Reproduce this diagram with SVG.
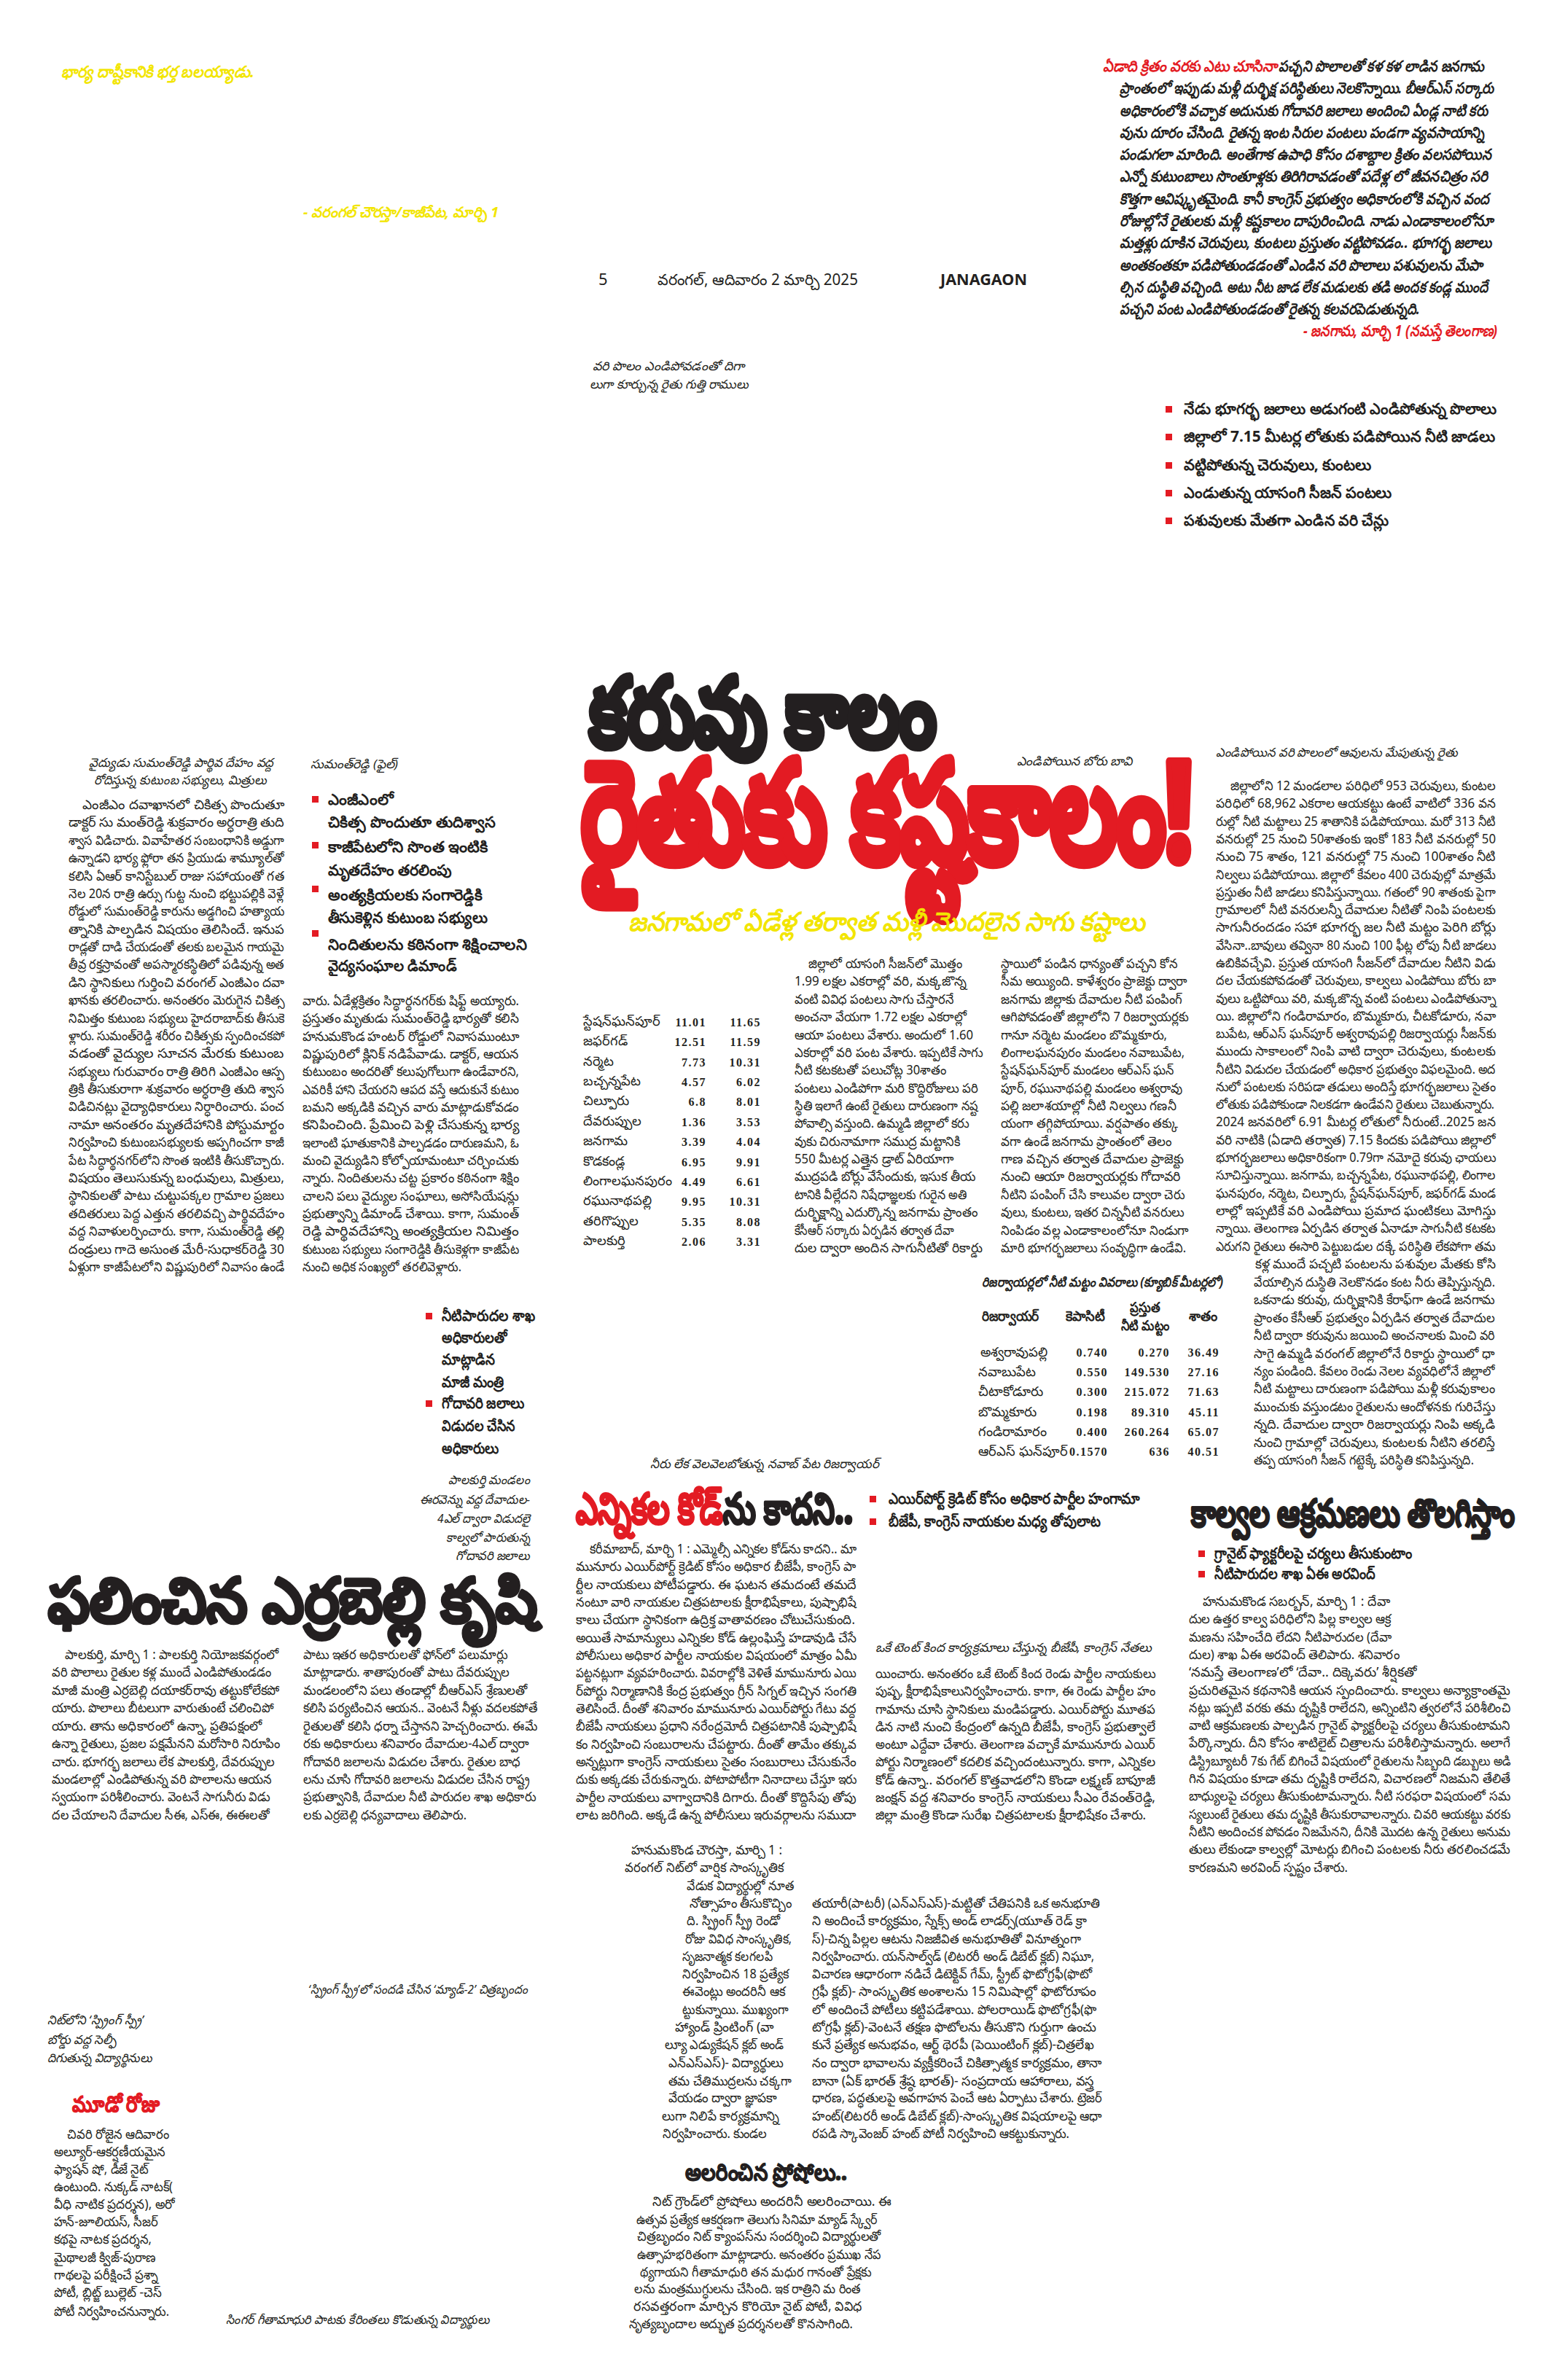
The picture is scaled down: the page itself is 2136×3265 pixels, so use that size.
<svg xmlns="http://www.w3.org/2000/svg" width="2136" height="3265" viewBox="0 0 2136 3265">
<style>
text{font-family:"Noto Sans","DejaVu Sans",sans-serif;fill:#231f20}
.b text,text.b{font-size:18px}
.c text,text.c{font-size:17px;font-style:italic}
.bl text,text.bl{font-size:21px;font-weight:bold}
.r{fill:#e31b23}
text.r,.r text{fill:#e31b23}
text.y{fill:#f2e500}
.sq{fill:#e31b23}
.n text{font-family:"Liberation Serif","DejaVu Serif",serif;font-weight:bold;font-size:16px;letter-spacing:1.5px;text-anchor:end}
.hd{font-weight:900;stroke:#231f20;stroke-linejoin:round}
text.hd.r{stroke:#e31b23}
</style>
<rect width="2136" height="3265" fill="#ffffff"/>

<g id="top-left">
<text class="y" x="84" y="106" font-size="22" font-weight="bold" font-style="italic" textLength="265" lengthAdjust="spacingAndGlyphs">భార్య దాష్టీకానికి భర్త బలయ్యాడు.</text>
<text class="y" x="416" y="298" font-size="20" font-weight="bold" font-style="italic" textLength="268" lengthAdjust="spacingAndGlyphs">- వరంగల్ చౌరస్తా/కాజీపేట, మార్చి 1</text>
</g>

<g id="folio">
<text x="821" y="391" font-size="22" font-family="Liberation Sans">5</text>
<text x="902" y="391" font-size="21" textLength="275" lengthAdjust="spacingAndGlyphs">వరంగల్, ఆదివారం 2 మార్చి 2025</text>
<text x="1290" y="391" font-size="22" font-weight="bold" font-family="Liberation Sans" textLength="119" lengthAdjust="spacingAndGlyphs">JANAGAON</text>
</g>

<g id="caption-ramulu" class="c">
<text x="813" y="508" textLength="209" lengthAdjust="spacingAndGlyphs">వరి పొలం ఎండిపోవడంతో దిగా</text>
<text x="809" y="533" textLength="218" lengthAdjust="spacingAndGlyphs">లుగా కూర్చున్న రైతు గుత్తి రాములు</text>
</g>

<g id="lead" font-size="21" font-weight="bold" font-style="italic">
<text class="r" x="1513" y="98" textLength="239" lengthAdjust="spacingAndGlyphs">ఏడాది క్రితం వరకు ఎటు చూసినా</text>
<text x="1754" y="98" textLength="282" lengthAdjust="spacingAndGlyphs">పచ్చని పొలాలతో కళ కళ లాడిన జనగామ</text>
<text x="1536" y="128" textLength="513" lengthAdjust="spacingAndGlyphs">ప్రాంతంలో ఇప్పుడు మళ్లీ దుర్భిక్ష పరిస్థితులు నెలకొన్నాయి. బీఆర్ఎస్ సర్కారు</text>
<text x="1536" y="159" textLength="505" lengthAdjust="spacingAndGlyphs">అధికారంలోకి వచ్చాక అదునుకు గోదావరి జలాలు అందించి ఏండ్ల నాటి కరు</text>
<text x="1536" y="189" textLength="500" lengthAdjust="spacingAndGlyphs">వును దూరం చేసింది. రైతన్న ఇంట సిరుల పంటలు పండగా వ్యవసాయాన్ని</text>
<text x="1536" y="219" textLength="510" lengthAdjust="spacingAndGlyphs">పండుగలా మారింది. అంతేగాక ఉపాధి కోసం దశాబ్దాల క్రితం వలసపోయిన</text>
<text x="1536" y="249" textLength="505" lengthAdjust="spacingAndGlyphs">ఎన్నో కుటుంబాలు సొంతూళ్లకు తిరిగిరావడంతో పదేళ్ల లో జీవనచిత్రం సరి</text>
<text x="1536" y="280" textLength="507" lengthAdjust="spacingAndGlyphs">కొత్తగా ఆవిష్కృతమైంది. కానీ కాంగ్రెస్ ప్రభుత్వం అధికారంలోకి వచ్చిన వంద</text>
<text x="1536" y="310" textLength="512" lengthAdjust="spacingAndGlyphs">రోజుల్లోనే రైతులకు మళ్లీ కష్టకాలం దాపురించింది. నాడు ఎండాకాలంలోనూ</text>
<text x="1536" y="340" textLength="510" lengthAdjust="spacingAndGlyphs">మత్తళ్లు దూకిన చెరువులు, కుంటలు ప్రస్తుతం వట్టిపోవడం.. భూగర్భ జలాలు</text>
<text x="1536" y="371" textLength="498" lengthAdjust="spacingAndGlyphs">అంతకంతకూ పడిపోతుండడంతో ఎండిన వరి పొలాలు పశువులను మేపా</text>
<text x="1536" y="401" textLength="505" lengthAdjust="spacingAndGlyphs">ల్సిన దుస్థితి వచ్చింది. అటు నీట జాడ లేక మడులకు తడి అందక కండ్ల ముందే</text>
<text x="1536" y="431" textLength="412" lengthAdjust="spacingAndGlyphs">పచ్చని పంట ఎండిపోతుండడంతో రైతన్న కలవరపెడుతున్నది.</text>
<text class="r" x="1788" y="461" textLength="266" lengthAdjust="spacingAndGlyphs">- జనగామ, మార్చి 1 (నమస్తే తెలంగాణ)</text>
</g>

<g id="lead-bullets">
<rect class="sq" x="1599" y="557" width="9" height="9"/>
<rect class="sq" x="1599" y="595" width="9" height="9"/>
<rect class="sq" x="1599" y="634" width="9" height="9"/>
<rect class="sq" x="1599" y="672" width="9" height="9"/>
<rect class="sq" x="1599" y="710" width="9" height="9"/>
<g class="bl">
<text x="1624" y="568" textLength="429" lengthAdjust="spacingAndGlyphs">నేడు భూగర్భ జలాలు అడుగంటి ఎండిపోతున్న పొలాలు</text>
<text x="1624" y="606" textLength="427" lengthAdjust="spacingAndGlyphs">జిల్లాలో 7.15 మీటర్ల లోతుకు పడిపోయిన నీటి జాడలు</text>
<text x="1624" y="645" textLength="257" lengthAdjust="spacingAndGlyphs">వట్టిపోతున్న చెరువులు, కుంటలు</text>
<text x="1624" y="683" textLength="285" lengthAdjust="spacingAndGlyphs">ఎండుతున్న యాసంగి సీజన్ పంటలు</text>
<text x="1624" y="721" textLength="281" lengthAdjust="spacingAndGlyphs">పశువులకు మేతగా ఎండిన వరి చేన్లు</text>
</g>
</g>

<g id="headline">
<text class="hd" x="809" y="1023" font-size="130" stroke-width="9" textLength="475" lengthAdjust="spacingAndGlyphs">కరువు కాలం</text>
<text class="c" x="1395" y="1050" textLength="158" lengthAdjust="spacingAndGlyphs">ఎండిపోయిన బోరు బావి</text>
<text class="hd r" x="798" y="1181" font-size="190" stroke-width="12" textLength="838" lengthAdjust="spacingAndGlyphs">రైతుకు కష్టకాలం!</text>
<text class="y" x="862" y="1277" font-size="36" font-weight="bold" font-style="italic" textLength="708" lengthAdjust="spacingAndGlyphs">జనగామలో ఏడేళ్ల తర్వాత మళ్లీ మొదలైన సాగు కష్టాలు</text>
</g>

<g id="doctor-story">
<g class="c">
<text x="122" y="1052" textLength="253" lengthAdjust="spacingAndGlyphs">వైద్యుడు సుమంత్‌రెడ్డి పార్థివ దేహం వద్ద</text>
<text x="129" y="1076" textLength="237" lengthAdjust="spacingAndGlyphs">రోదిస్తున్న కుటుంబ సభ్యులు, మిత్రులు</text>
<text x="426" y="1054" textLength="120" lengthAdjust="spacingAndGlyphs">సుమంత్‌రెడ్డి (ఫైల్)</text>
</g>
<rect class="sq" x="428" y="1092" width="9" height="9"/>
<rect class="sq" x="428" y="1155" width="9" height="9"/>
<rect class="sq" x="428" y="1215" width="9" height="9"/>
<rect class="sq" x="428" y="1276" width="9" height="9"/>
<g class="bl">
<text x="450" y="1104" textLength="90" lengthAdjust="spacingAndGlyphs">ఎంజీఎంలో</text>
<text x="450" y="1135" textLength="230" lengthAdjust="spacingAndGlyphs">చికిత్స పొందుతూ తుదిశ్వాస</text>
<text x="450" y="1169" textLength="219" lengthAdjust="spacingAndGlyphs">కాజీపేటలోని సొంత ఇంటికి</text>
<text x="450" y="1201" textLength="170" lengthAdjust="spacingAndGlyphs">మృతదేహం తరలింపు</text>
<text x="450" y="1235" textLength="212" lengthAdjust="spacingAndGlyphs">అంత్యక్రియలకు సంగారెడ్డికి</text>
<text x="450" y="1266" textLength="219" lengthAdjust="spacingAndGlyphs">తీసుకెళ్లిన కుటుంబ సభ్యులు</text>
<text x="450" y="1303" textLength="273" lengthAdjust="spacingAndGlyphs">నిందితులను కఠినంగా శిక్షించాలని</text>
<text x="450" y="1332" textLength="177" lengthAdjust="spacingAndGlyphs">వైద్యసంఘాల డిమాండ్</text>
</g>
<g class="b">
<text x="113" y="1110" textLength="277" lengthAdjust="spacingAndGlyphs">ఎంజీఎం దవాఖానలో చికిత్స పొందుతూ</text>
<text x="94" y="1134" textLength="296" lengthAdjust="spacingAndGlyphs">డాక్టర్ సు మంత్‌రెడ్డి శుక్రవారం అర్ధరాత్రి తుది</text>
<text x="94" y="1159" textLength="296" lengthAdjust="spacingAndGlyphs">శ్వాస విడిచారు. వివాహేతర సంబంధానికి అడ్డుగా</text>
<text x="94" y="1183" textLength="296" lengthAdjust="spacingAndGlyphs">ఉన్నాడని భార్య ఫ్లోరా తన ప్రియుడు శామ్యూల్‌తో</text>
<text x="94" y="1208" textLength="296" lengthAdjust="spacingAndGlyphs">కలిసి ఏఆర్ కానిస్టేబుల్ రాజు సహాయంతో గత</text>
<text x="94" y="1232" textLength="296" lengthAdjust="spacingAndGlyphs">నెల 20న రాత్రి ఉర్సు గుట్ట నుంచి భట్టుపల్లికి వెళ్లే</text>
<text x="94" y="1256" textLength="296" lengthAdjust="spacingAndGlyphs">రోడ్డులో సుమంత్‌రెడ్డి కారును అడ్డగించి హత్యాయ</text>
<text x="94" y="1281" textLength="296" lengthAdjust="spacingAndGlyphs">త్నానికి పాల్పడిన విషయం తెలిసిందే. ఇనుప</text>
<text x="94" y="1305" textLength="296" lengthAdjust="spacingAndGlyphs">రాడ్లతో దాడి చేయడంతో తలకు బలమైన గాయమై</text>
<text x="94" y="1329" textLength="296" lengthAdjust="spacingAndGlyphs">తీవ్ర రక్తస్రావంతో అపస్మారకస్థితిలో పడివున్న అత</text>
<text x="94" y="1354" textLength="296" lengthAdjust="spacingAndGlyphs">డిని స్థానికులు గుర్తించి వరంగల్ ఎంజీఎం దవా</text>
<text x="94" y="1378" textLength="296" lengthAdjust="spacingAndGlyphs">ఖానకు తరలించారు. అనంతరం మెరుగైన చికిత్స</text>
<text x="94" y="1403" textLength="296" lengthAdjust="spacingAndGlyphs">నిమిత్తం కుటుంబ సభ్యులు హైదరాబాద్‌కు తీసుకె</text>
<text x="94" y="1427" textLength="296" lengthAdjust="spacingAndGlyphs">ళ్లారు. సుమంత్‌రెడ్డి శరీరం చికిత్సకు స్పందించకపో</text>
<text x="94" y="1451" textLength="296" lengthAdjust="spacingAndGlyphs">వడంతో వైద్యుల సూచన మేరకు కుటుంబ</text>
<text x="94" y="1476" textLength="296" lengthAdjust="spacingAndGlyphs">సభ్యులు గురువారం రాత్రి తిరిగి ఎంజీఎం ఆస్ప</text>
<text x="94" y="1500" textLength="296" lengthAdjust="spacingAndGlyphs">త్రికి తీసుకురాగా శుక్రవారం అర్ధరాత్రి తుది శ్వాస</text>
<text x="94" y="1524" textLength="296" lengthAdjust="spacingAndGlyphs">విడిచినట్లు వైద్యాధికారులు నిర్ధారించారు. పంచ</text>
<text x="94" y="1549" textLength="296" lengthAdjust="spacingAndGlyphs">నామా అనంతరం మృతదేహానికి పోస్టుమార్టం</text>
<text x="94" y="1573" textLength="296" lengthAdjust="spacingAndGlyphs">నిర్వహించి కుటుంబసభ్యులకు అప్పగించగా కాజీ</text>
<text x="94" y="1598" textLength="296" lengthAdjust="spacingAndGlyphs">పేట సిద్ధార్థనగర్‌లోని సొంత ఇంటికి తీసుకొచ్చారు.</text>
<text x="94" y="1622" textLength="296" lengthAdjust="spacingAndGlyphs">విషయం తెలుసుకున్న బంధువులు, మిత్రులు,</text>
<text x="94" y="1646" textLength="296" lengthAdjust="spacingAndGlyphs">స్థానికులతో పాటు చుట్టుపక్కల గ్రామాల ప్రజలు</text>
<text x="94" y="1671" textLength="296" lengthAdjust="spacingAndGlyphs">తదితరులు పెద్ద ఎత్తున తరలివచ్చి పార్థివదేహం</text>
<text x="94" y="1695" textLength="296" lengthAdjust="spacingAndGlyphs">వద్ద నివాళులర్పించారు. కాగా, సుమంత్‌రెడ్డి తల్లి</text>
<text x="94" y="1720" textLength="296" lengthAdjust="spacingAndGlyphs">దండ్రులు గాదె అసుంత మేరీ-సుధాకర్‌రెడ్డి 30</text>
<text x="94" y="1744" textLength="296" lengthAdjust="spacingAndGlyphs">ఏళ్లుగా కాజీపేటలోని విష్ణుపురిలో నివాసం ఉండే</text>
<text x="415" y="1379" textLength="297" lengthAdjust="spacingAndGlyphs">వారు. ఏడేళ్లక్రితం సిద్ధార్థనగర్‌కు షిఫ్ట్ అయ్యారు.</text>
<text x="415" y="1403" textLength="297" lengthAdjust="spacingAndGlyphs">ప్రస్తుతం మృతుడు సుమంత్‌రెడ్డి భార్యతో కలిసి</text>
<text x="415" y="1428" textLength="297" lengthAdjust="spacingAndGlyphs">హనుమకొండ హంటర్ రోడ్డులో నివాసముంటూ</text>
<text x="415" y="1452" textLength="297" lengthAdjust="spacingAndGlyphs">విష్ణుపురిలో క్లినిక్ నడిపేవాడు. డాక్టర్, ఆయన</text>
<text x="415" y="1476" textLength="297" lengthAdjust="spacingAndGlyphs">కుటుంబం అందరితో కలుపుగోలుగా ఉండేవారని,</text>
<text x="415" y="1501" textLength="297" lengthAdjust="spacingAndGlyphs">ఎవరికీ హాని చేయరని ఆపద వస్తే ఆదుకునే కుటుం</text>
<text x="415" y="1525" textLength="297" lengthAdjust="spacingAndGlyphs">బమని అక్కడికి వచ్చిన వారు మాట్లాడుకోవడం</text>
<text x="415" y="1549" textLength="297" lengthAdjust="spacingAndGlyphs">కనిపించింది. ప్రేమించి పెళ్లి చేసుకున్న భార్య</text>
<text x="415" y="1574" textLength="297" lengthAdjust="spacingAndGlyphs">ఇలాంటి ఘాతుకానికి పాల్పడడం దారుణమని, ఓ</text>
<text x="415" y="1598" textLength="297" lengthAdjust="spacingAndGlyphs">మంచి వైద్యుడిని కోల్పోయామంటూ చర్చించుకు</text>
<text x="415" y="1622" textLength="297" lengthAdjust="spacingAndGlyphs">న్నారు. నిందితులను చట్ట ప్రకారం కఠినంగా శిక్షిం</text>
<text x="415" y="1647" textLength="297" lengthAdjust="spacingAndGlyphs">చాలని పలు వైద్యుల సంఘాలు, అసోసియేషన్లు</text>
<text x="415" y="1671" textLength="297" lengthAdjust="spacingAndGlyphs">ప్రభుత్వాన్ని డిమాండ్ చేశాయి. కాగా, సుమంత్</text>
<text x="415" y="1695" textLength="297" lengthAdjust="spacingAndGlyphs">రెడ్డి పార్థివదేహాన్ని అంత్యక్రియల నిమిత్తం</text>
<text x="415" y="1720" textLength="297" lengthAdjust="spacingAndGlyphs">కుటుంబ సభ్యులు సంగారెడ్డికి తీసుకెళ్లగా కాజీపేట</text>
<text x="415" y="1744" textLength="218" lengthAdjust="spacingAndGlyphs">నుంచి అధిక సంఖ్యలో తరలివెళ్లారు.</text>
</g>
</g>

<g id="groundwater-table">
<g class="b">
<text x="800" y="1407">స్టేషన్‌ఘన్‌పూర్</text>
<text x="800" y="1434">జఫర్‌గడ్</text>
<text x="800" y="1462">నర్మెట</text>
<text x="800" y="1489">బచ్చన్నపేట</text>
<text x="800" y="1516">చిల్పూరు</text>
<text x="800" y="1544">దేవరుప్పుల</text>
<text x="800" y="1571">జనగామ</text>
<text x="800" y="1599">కొడకండ్ల</text>
<text x="800" y="1626">లింగాలఘనపురం</text>
<text x="800" y="1653">రఘునాథపల్లి</text>
<text x="800" y="1681">తరిగొప్పుల</text>
<text x="800" y="1708">పాలకుర్తి</text>
</g>
<g class="n">
<text x="969" y="1408">11.01</text><text x="1044" y="1408">11.65</text>
<text x="969" y="1435">12.51</text><text x="1044" y="1435">11.59</text>
<text x="969" y="1463">7.73</text><text x="1044" y="1463">10.31</text>
<text x="969" y="1490">4.57</text><text x="1044" y="1490">6.02</text>
<text x="969" y="1517">6.8</text><text x="1044" y="1517">8.01</text>
<text x="969" y="1545">1.36</text><text x="1044" y="1545">3.53</text>
<text x="969" y="1572">3.39</text><text x="1044" y="1572">4.04</text>
<text x="969" y="1600">6.95</text><text x="1044" y="1600">9.91</text>
<text x="969" y="1627">4.49</text><text x="1044" y="1627">6.61</text>
<text x="969" y="1654">9.95</text><text x="1044" y="1654">10.31</text>
<text x="969" y="1682">5.35</text><text x="1044" y="1682">8.08</text>
<text x="969" y="1709">2.06</text><text x="1044" y="1709">3.31</text>
</g>
</g>

<g id="drought-story" class="b">
<text x="1109" y="1328" textLength="211" lengthAdjust="spacingAndGlyphs">జిల్లాలో యాసంగి సీజన్‌లో మొత్తం</text>
<text x="1090" y="1352" textLength="236" lengthAdjust="spacingAndGlyphs">1.99 లక్షల ఎకరాల్లో వరి, మక్కజొన్న</text>
<text x="1090" y="1377" textLength="219" lengthAdjust="spacingAndGlyphs">వంటి వివిధ పంటలు సాగు చేస్తారనే</text>
<text x="1090" y="1401" textLength="236" lengthAdjust="spacingAndGlyphs">అంచనా వేయగా 1.72 లక్షల ఎకరాల్లో</text>
<text x="1090" y="1426" textLength="245" lengthAdjust="spacingAndGlyphs">ఆయా పంటలు వేశారు. అందులో 1.60</text>
<text x="1090" y="1450" textLength="258" lengthAdjust="spacingAndGlyphs">ఎకరాల్లో వరి పంట వేశారు. ఇప్పటికే సాగు</text>
<text x="1090" y="1474" textLength="208" lengthAdjust="spacingAndGlyphs">నీటి కటకటతో పలుచోట్ల 30శాతం</text>
<text x="1090" y="1499" textLength="252" lengthAdjust="spacingAndGlyphs">పంటలు ఎండిపోగా మరి కొద్దిరోజులు పరి</text>
<text x="1090" y="1523" textLength="252" lengthAdjust="spacingAndGlyphs">స్థితి ఇలాగే ఉంటే రైతులు దారుణంగా నష్ట</text>
<text x="1090" y="1547" textLength="239" lengthAdjust="spacingAndGlyphs">పోవాల్సి వస్తుంది. ఉమ్మడి జిల్లాలో కరు</text>
<text x="1090" y="1572" textLength="227" lengthAdjust="spacingAndGlyphs">వుకు చిరునామాగా సముద్ర మట్టానికి</text>
<text x="1090" y="1596" textLength="219" lengthAdjust="spacingAndGlyphs">550 మీటర్ల ఎత్తైన డ్రాట్ ఏరియాగా</text>
<text x="1090" y="1620" textLength="248" lengthAdjust="spacingAndGlyphs">ముద్రపడి బోర్లు వేసేందుకు, ఇసుక తీయ</text>
<text x="1090" y="1645" textLength="236" lengthAdjust="spacingAndGlyphs">టానికి వీల్లేదని నిషేధాజ్ఞలకు గురైన అతి</text>
<text x="1090" y="1669" textLength="251" lengthAdjust="spacingAndGlyphs">దుర్భిక్షాన్ని ఎదుర్కొన్న జనగామ ప్రాంతం</text>
<text x="1090" y="1694" textLength="219" lengthAdjust="spacingAndGlyphs">కేసీఆర్ సర్కారు ఏర్పడిన తర్వాత దేవా</text>
<text x="1090" y="1718" textLength="258" lengthAdjust="spacingAndGlyphs">దుల ద్వారా అందిన సాగునీటితో రికార్డు</text>
<text x="1373" y="1328" textLength="243" lengthAdjust="spacingAndGlyphs">స్థాయిలో పండిన ధాన్యంతో పచ్చని కోన</text>
<text x="1373" y="1352" textLength="256" lengthAdjust="spacingAndGlyphs">సీమ అయ్యింది. కాళేశ్వరం ప్రాజెక్టు ద్వారా</text>
<text x="1373" y="1377" textLength="249" lengthAdjust="spacingAndGlyphs">జనగామ జిల్లాకు దేవాదుల నీటి పంపింగ్</text>
<text x="1373" y="1401" textLength="258" lengthAdjust="spacingAndGlyphs">ఆగిపోవడంతో జిల్లాలోని 7 రిజర్వాయర్లకు</text>
<text x="1373" y="1426" textLength="228" lengthAdjust="spacingAndGlyphs">గానూ నర్మెట మండలం బొమ్మకూరు,</text>
<text x="1373" y="1450" textLength="252" lengthAdjust="spacingAndGlyphs">లింగాలఘనపురం మండలం నవాబుపేట,</text>
<text x="1373" y="1474" textLength="238" lengthAdjust="spacingAndGlyphs">స్టేషన్‌ఘన్‌పూర్ మండలం ఆర్ఎస్ ఘన్</text>
<text x="1373" y="1499" textLength="249" lengthAdjust="spacingAndGlyphs">పూర్, రఘునాథపల్లి మండలం అశ్వరావు</text>
<text x="1373" y="1523" textLength="241" lengthAdjust="spacingAndGlyphs">పల్లి జలాశయాల్లో నీటి నిల్వలు గణనీ</text>
<text x="1373" y="1547" textLength="243" lengthAdjust="spacingAndGlyphs">యంగా తగ్గిపోయాయి. వర్షపాతం తక్కు</text>
<text x="1373" y="1572" textLength="234" lengthAdjust="spacingAndGlyphs">వగా ఉండే జనగామ ప్రాంతంలో తెలం</text>
<text x="1373" y="1596" textLength="251" lengthAdjust="spacingAndGlyphs">గాణ వచ్చిన తర్వాత దేవాదుల ప్రాజెక్టు</text>
<text x="1373" y="1620" textLength="247" lengthAdjust="spacingAndGlyphs">నుంచి ఆయా రిజర్వాయర్లకు గోదావరి</text>
<text x="1373" y="1645" textLength="252" lengthAdjust="spacingAndGlyphs">నీటిని పంపింగ్ చేసి కాలువల ద్వారా చెరు</text>
<text x="1373" y="1669" textLength="251" lengthAdjust="spacingAndGlyphs">వులు, కుంటలు, ఇతర చిన్ననీటి వనరులు</text>
<text x="1373" y="1694" textLength="258" lengthAdjust="spacingAndGlyphs">నింపిడం వల్ల ఎండాకాలంలోనూ నిండుగా</text>
<text x="1373" y="1718" textLength="254" lengthAdjust="spacingAndGlyphs">మారి భూగర్భజలాలు సంవృద్ధిగా ఉండేవి.</text>
</g>

<g id="right-story">
<text class="c" x="1668" y="1038" textLength="332" lengthAdjust="spacingAndGlyphs">ఎండిపోయిన వరి పొలంలో ఆవులను మేపుతున్న రైతు</text>
<g class="b">
<text x="1688" y="1084" textLength="364" lengthAdjust="spacingAndGlyphs">జిల్లాలోని 12 మండలాల పరిధిలో 953 చెరువులు, కుంటల</text>
<text x="1668" y="1108" textLength="384" lengthAdjust="spacingAndGlyphs">పరిధిలో 68,962 ఎకరాల ఆయకట్టు ఉంటే వాటిలో 336 వన</text>
<text x="1668" y="1133" textLength="384" lengthAdjust="spacingAndGlyphs">రుల్లో నీటి మట్టాలు 25 శాతానికి పడిపోయాయి. మరో 313 నీటి</text>
<text x="1668" y="1157" textLength="384" lengthAdjust="spacingAndGlyphs">వనరుల్లో 25 నుంచి 50శాతంకు ఇంకో 183 నీటి వనరుల్లో 50</text>
<text x="1668" y="1181" textLength="384" lengthAdjust="spacingAndGlyphs">నుంచి 75 శాతం, 121 వనరుల్లో 75 నుంచి 100శాతం నీటి</text>
<text x="1668" y="1206" textLength="384" lengthAdjust="spacingAndGlyphs">నిల్వలు పడిపోయాయి. జిల్లాలో కేవలం 400 చెరువుల్లో మాత్రమే</text>
<text x="1668" y="1230" textLength="384" lengthAdjust="spacingAndGlyphs">ప్రస్తుతం నీటి జాడలు కనిపిస్తున్నాయి. గతంలో 90 శాతంకు పైగా</text>
<text x="1668" y="1254" textLength="384" lengthAdjust="spacingAndGlyphs">గ్రామాలలో నీటి వనరులన్నీ దేవాదుల నీటితో నింపి పంటలకు</text>
<text x="1668" y="1278" textLength="384" lengthAdjust="spacingAndGlyphs">సాగునీరందడం సహా భూగర్భ జల నీటి మట్టం పెరిగి బోర్లు</text>
<text x="1668" y="1303" textLength="384" lengthAdjust="spacingAndGlyphs">వేసినా..బావులు తవ్వినా 80 నుంచి 100 ఫీట్ల లోపు నీటి జాడలు</text>
<text x="1668" y="1327" textLength="384" lengthAdjust="spacingAndGlyphs">ఉబికివచ్చేవి. ప్రస్తుత యాసంగి సీజన్‌లో దేవాదుల నీటిని విడు</text>
<text x="1668" y="1351" textLength="384" lengthAdjust="spacingAndGlyphs">దల చేయకపోవడంతో చెరువులు, కాల్వలు ఎండిపోయి బోరు బా</text>
<text x="1668" y="1376" textLength="384" lengthAdjust="spacingAndGlyphs">వులు ఒట్టిపోయి వరి, మక్కజొన్న వంటి పంటలు ఎండిపోతున్నా</text>
<text x="1668" y="1400" textLength="384" lengthAdjust="spacingAndGlyphs">యి. జిల్లాలోని గండిరామారం, బొమ్మకూరు, చీటకోడూరు, నవా</text>
<text x="1668" y="1424" textLength="384" lengthAdjust="spacingAndGlyphs">బుపేట, ఆర్ఎస్ ఘన్‌పూర్ అశ్వరావుపల్లి రిజర్వాయర్లు సీజన్‌కు</text>
<text x="1668" y="1448" textLength="384" lengthAdjust="spacingAndGlyphs">ముందు సాకాలంలో నింపి వాటి ద్వారా చెరువులు, కుంటలకు</text>
<text x="1668" y="1473" textLength="384" lengthAdjust="spacingAndGlyphs">నీటిని విడుదల చేయడంలో అధికార ప్రభుత్వం విఫలమైంది. అద</text>
<text x="1668" y="1497" textLength="384" lengthAdjust="spacingAndGlyphs">నులో పంటలకు సరిపడా తడులు అందిస్తే భూగర్భజలాలు సైతం</text>
<text x="1668" y="1521" textLength="382" lengthAdjust="spacingAndGlyphs">లోతుకు పడిపోకుండా నిలకడగా ఉండేవని రైతులు చెబుతున్నారు.</text>
<text x="1668" y="1545" textLength="384" lengthAdjust="spacingAndGlyphs">2024 జనవరిలో 6.91 మీటర్ల లోతులో నీరుంటే..2025 జన</text>
<text x="1668" y="1570" textLength="384" lengthAdjust="spacingAndGlyphs">వరి నాటికి (ఏడాది తర్వాత) 7.15 కిందకు పడిపోయి జిల్లాలో</text>
<text x="1668" y="1594" textLength="384" lengthAdjust="spacingAndGlyphs">భూగర్భజలాలు అధికారికంగా 0.79గా నమోదై కరువు ఛాయలు</text>
<text x="1668" y="1618" textLength="384" lengthAdjust="spacingAndGlyphs">సూచిస్తున్నాయి. జనగామ, బచ్చన్నపేట, రఘునాథపల్లి, లింగాల</text>
<text x="1668" y="1643" textLength="384" lengthAdjust="spacingAndGlyphs">ఘనపురం, నర్మెట, చిల్పూరు, స్టేషన్‌ఘన్‌పూర్, జఫర్‌గడ్ మండ</text>
<text x="1668" y="1667" textLength="384" lengthAdjust="spacingAndGlyphs">లాల్లో ఇప్పటికే వరి ఎండిపోయి ప్రమాద ఘంటికలు మోగిస్తు</text>
<text x="1668" y="1691" textLength="384" lengthAdjust="spacingAndGlyphs">న్నాయి. తెలంగాణ ఏర్పడిన తర్వాత ఏనాడూ సాగునీటి కటకట</text>
<text x="1668" y="1716" textLength="384" lengthAdjust="spacingAndGlyphs">ఎరుగని రైతులు ఈసారి పెట్టుబడుల దక్కే పరిస్థితి లేకపోగా తమ</text>
<text x="1722" y="1740" textLength="330" lengthAdjust="spacingAndGlyphs">కళ్ల ముందే పచ్చటి పంటలను పశువుల మేతకు కోసి</text>
<text x="1720" y="1765" textLength="331" lengthAdjust="spacingAndGlyphs">వేయాల్సిన దుస్థితి నెలకొనడం కంట నీరు తెప్పిస్తున్నది.</text>
<text x="1720" y="1789" textLength="331" lengthAdjust="spacingAndGlyphs">ఒకనాడు కరువు, దుర్భిక్షానికి కేరాఫ్‌గా ఉండే జనగామ</text>
<text x="1720" y="1814" textLength="331" lengthAdjust="spacingAndGlyphs">ప్రాంతం కేసీఆర్ ప్రభుత్వం ఏర్పడిన తర్వాత దేవాదుల</text>
<text x="1720" y="1838" textLength="331" lengthAdjust="spacingAndGlyphs">నీటి ద్వారా కరువును జయించి అంచనాలకు మించి వరి</text>
<text x="1720" y="1863" textLength="331" lengthAdjust="spacingAndGlyphs">సాగై ఉమ్మడి వరంగల్ జిల్లాలోనే రికార్డు స్థాయిలో ధా</text>
<text x="1720" y="1887" textLength="331" lengthAdjust="spacingAndGlyphs">న్యం పండింది. కేవలం రెండు నెలల వ్యవధిలోనే జిల్లాలో</text>
<text x="1720" y="1911" textLength="331" lengthAdjust="spacingAndGlyphs">నీటి మట్టాలు దారుణంగా పడిపోయి మళ్లీ కరువుకాలం</text>
<text x="1720" y="1936" textLength="331" lengthAdjust="spacingAndGlyphs">ముంచుకు వస్తుండటం రైతులను ఆందోళనకు గురిచేస్తు</text>
<text x="1720" y="1960" textLength="331" lengthAdjust="spacingAndGlyphs">న్నది. దేవాదుల ద్వారా రిజర్వాయర్లు నింపి అక్కడి</text>
<text x="1720" y="1985" textLength="331" lengthAdjust="spacingAndGlyphs">నుంచి గ్రామాల్లో చెరువులు, కుంటలకు నీటిని తరలిస్తే</text>
<text x="1720" y="2009" textLength="302" lengthAdjust="spacingAndGlyphs">తప్ప యాసంగి సీజన్ గట్టెక్కే పరిస్థితి కనిపిస్తున్నది.</text>
</g>
</g>

<g id="reservoir-table">
<text x="1347" y="1765" font-size="18" font-weight="bold" font-style="italic" textLength="331" lengthAdjust="spacingAndGlyphs">రిజర్వాయర్లలో నీటి మట్టం వివరాలు (క్యూబిక్ మీటర్లలో)</text>
<g font-size="19" font-weight="bold">
<text x="1347" y="1812" textLength="78" lengthAdjust="spacingAndGlyphs">రిజర్వాయర్</text>
<text x="1462" y="1812" textLength="54" lengthAdjust="spacingAndGlyphs">కెపాసిటీ</text>
<text x="1550" y="1800" textLength="42" lengthAdjust="spacingAndGlyphs">ప్రస్తుత</text>
<text x="1538" y="1825" textLength="67" lengthAdjust="spacingAndGlyphs">నీటి మట్టం</text>
<text x="1631" y="1812" textLength="40" lengthAdjust="spacingAndGlyphs">శాతం</text>
</g>
<g class="b">
<text x="1345" y="1861">అశ్వరావుపల్లి</text>
<text x="1342" y="1888">నవాబుపేట</text>
<text x="1342" y="1915">చీటాకోడూరు</text>
<text x="1342" y="1943">బొమ్మకూరు</text>
<text x="1342" y="1970">గండిరామారం</text>
<text x="1342" y="1997">ఆర్ఎస్ ఘన్‌పూర్</text>
</g>
<g class="n">
<text x="1520" y="1861">0.740</text><text x="1605" y="1861">0.270</text><text x="1673" y="1861">36.49</text>
<text x="1520" y="1888">0.550</text><text x="1605" y="1888">149.530</text><text x="1673" y="1888">27.16</text>
<text x="1520" y="1915">0.300</text><text x="1605" y="1915">215.072</text><text x="1673" y="1915">71.63</text>
<text x="1520" y="1943">0.198</text><text x="1605" y="1943">89.310</text><text x="1673" y="1943">45.11</text>
<text x="1520" y="1970">0.400</text><text x="1605" y="1970">260.264</text><text x="1673" y="1970">65.07</text>
<text x="1520" y="1997">0.1570</text><text x="1605" y="1997">636</text><text x="1673" y="1997">40.51</text>
</g>
</g>

<g id="errabelli-bullets">
<rect class="sq" x="584" y="1801" width="9" height="9"/>
<rect class="sq" x="584" y="1921" width="9" height="9"/>
<g class="bl">
<text x="606" y="1812" textLength="128" lengthAdjust="spacingAndGlyphs">నీటిపారుదల శాఖ</text>
<text x="606" y="1842" textLength="90" lengthAdjust="spacingAndGlyphs">అధికారులతో</text>
<text x="606" y="1872" textLength="73" lengthAdjust="spacingAndGlyphs">మాట్లాడిన</text>
<text x="606" y="1903" textLength="85" lengthAdjust="spacingAndGlyphs">మాజీ మంత్రి</text>
<text x="606" y="1932" textLength="113" lengthAdjust="spacingAndGlyphs">గోదావరి జలాలు</text>
<text x="606" y="1963" textLength="101" lengthAdjust="spacingAndGlyphs">విడుదల చేసిన</text>
<text x="606" y="1994" textLength="78" lengthAdjust="spacingAndGlyphs">అధికారులు</text>
</g>
<g class="c" text-anchor="end">
<text x="727" y="2036" textLength="112" lengthAdjust="spacingAndGlyphs">పాలకుర్తి మండలం</text>
<text x="727" y="2063" textLength="151" lengthAdjust="spacingAndGlyphs">ఈరవెన్ను వద్ద దేవాదుల-</text>
<text x="727" y="2089" textLength="127" lengthAdjust="spacingAndGlyphs">4ఎల్ ద్వారా విడుదలై</text>
<text x="727" y="2115" textLength="115" lengthAdjust="spacingAndGlyphs">కాల్వలో పారుతున్న</text>
<text x="727" y="2140" textLength="102" lengthAdjust="spacingAndGlyphs">గోదావరి జలాలు</text>
</g>
</g>

<g id="errabelli-story">
<text class="hd" x="66" y="2225" font-size="84" stroke-width="4" textLength="671" lengthAdjust="spacingAndGlyphs">ఫలించిన ఎర్రబెల్లి కృషి</text>
<g class="b">
<text x="89" y="2276" textLength="294" lengthAdjust="spacingAndGlyphs">పాలకుర్తి, మార్చి 1 : పాలకుర్తి నియోజకవర్గంలో</text>
<text x="71" y="2300" textLength="301" lengthAdjust="spacingAndGlyphs">వరి పొలాలు రైతుల కళ్ల ముందే ఎండిపోతుండడం</text>
<text x="71" y="2325" textLength="312" lengthAdjust="spacingAndGlyphs">మాజీ మంత్రి ఎర్రబెల్లి దయాకర్‌రావు తట్టుకోలేకపో</text>
<text x="71" y="2349" textLength="304" lengthAdjust="spacingAndGlyphs">యారు. పొలాలు బీటలుగా వారుతుంటే చలించిపో</text>
<text x="71" y="2374" textLength="289" lengthAdjust="spacingAndGlyphs">యారు. తాను అధికారంలో ఉన్నా, ప్రతిపక్షంలో</text>
<text x="71" y="2398" textLength="313" lengthAdjust="spacingAndGlyphs">ఉన్నా రైతులు, ప్రజల పక్షమేనని మరోసారి నిరూపిం</text>
<text x="71" y="2423" textLength="306" lengthAdjust="spacingAndGlyphs">చారు. భూగర్భ జలాలు లేక పాలకుర్తి, దేవరుప్పుల</text>
<text x="71" y="2447" textLength="302" lengthAdjust="spacingAndGlyphs">మండలాల్లో ఎండిపోతున్న వరి పొలాలను ఆయన</text>
<text x="71" y="2471" textLength="299" lengthAdjust="spacingAndGlyphs">స్వయంగా పరిశీలించారు. వెంటనే సాగునీరు విడు</text>
<text x="71" y="2496" textLength="299" lengthAdjust="spacingAndGlyphs">దల చేయాలని దేవాదుల సీఈ, ఎస్ఈ, ఈఈలతో</text>
<text x="416" y="2276" textLength="280" lengthAdjust="spacingAndGlyphs">పాటు ఇతర అధికారులతో ఫోన్‌లో పలుమార్లు</text>
<text x="416" y="2300" textLength="283" lengthAdjust="spacingAndGlyphs">మాట్లాడారు. శాతాపురంతో పాటు దేవరుప్పుల</text>
<text x="416" y="2325" textLength="308" lengthAdjust="spacingAndGlyphs">మండలంలోని పలు తండాల్లో బీఆర్ఎస్ శ్రేణులతో</text>
<text x="416" y="2349" textLength="321" lengthAdjust="spacingAndGlyphs">కలిసి పర్యటించిన ఆయన.. వెంటనే నీళ్లు వదలకపోతే</text>
<text x="416" y="2374" textLength="321" lengthAdjust="spacingAndGlyphs">రైతులతో కలిసి ధర్నా చేస్తానని హెచ్చరించారు. ఈమే</text>
<text x="416" y="2398" textLength="310" lengthAdjust="spacingAndGlyphs">రకు అధికారులు శనివారం దేవాదుల-4ఎల్ ద్వారా</text>
<text x="416" y="2423" textLength="298" lengthAdjust="spacingAndGlyphs">గోదావరి జలాలను విడుదల చేశారు. రైతుల బాధ</text>
<text x="416" y="2447" textLength="311" lengthAdjust="spacingAndGlyphs">లను చూసి గోదావరి జలాలను విడుదల చేసిన రాష్ట్ర</text>
<text x="416" y="2471" textLength="319" lengthAdjust="spacingAndGlyphs">ప్రభుత్వానికి, దేవాదుల నీటి పారుదల శాఖ అధికారు</text>
<text x="416" y="2496" textLength="224" lengthAdjust="spacingAndGlyphs">లకు ఎర్రబెల్లి ధన్యవాదాలు తెలిపారు.</text>
</g>
</g>

<g id="airport-story">
<text class="c" x="892" y="2014" textLength="314" lengthAdjust="spacingAndGlyphs">నీరు లేక వెలవెలబోతున్న నవాబ్ పేట రిజర్వాయర్</text>
<text class="hd r" x="790" y="2090" font-size="58" stroke-width="3" textLength="202" lengthAdjust="spacingAndGlyphs">ఎన్నికల కోడ్</text>
<text class="hd" x="992" y="2090" font-size="58" stroke-width="3" textLength="178" lengthAdjust="spacingAndGlyphs">ను కాదని..</text>
<rect class="sq" x="1193" y="2052" width="9" height="9"/>
<rect class="sq" x="1193" y="2083" width="9" height="9"/>
<g class="bl">
<text x="1219" y="2063" textLength="345" lengthAdjust="spacingAndGlyphs">ఎయిర్‌పోర్ట్ క్రెడిట్ కోసం అధికార పార్టీల హంగామా</text>
<text x="1219" y="2094" textLength="291" lengthAdjust="spacingAndGlyphs">బీజేపీ, కాంగ్రెస్ నాయకుల మధ్య తోపులాట</text>
</g>
<text class="c" x="1201" y="2266" textLength="379" lengthAdjust="spacingAndGlyphs">ఒకే టెంట్ కింద కార్యక్రమాలు చేస్తున్న బీజేపీ, కాంగ్రెస్ నేతలు</text>
<g class="b">
<text x="809" y="2131" textLength="366" lengthAdjust="spacingAndGlyphs">కరీమాబాద్, మార్చి 1 : ఎమ్మెల్సీ ఎన్నికల కోడ్‌ను కాదని.. మా</text>
<text x="790" y="2155" textLength="385" lengthAdjust="spacingAndGlyphs">మునూరు ఎయిర్‌పోర్ట్ క్రెడిట్ కోసం అధికార బీజేపీ, కాంగ్రెస్ పా</text>
<text x="790" y="2180" textLength="385" lengthAdjust="spacingAndGlyphs">ర్టీల నాయకులు పోటీపడ్డారు. ఈ ఘటన తమదంటే తమదే</text>
<text x="790" y="2204" textLength="385" lengthAdjust="spacingAndGlyphs">నంటూ వారి నాయకుల చిత్రపటాలకు క్షీరాభిషేకాలు, పుష్పాభిషే</text>
<text x="790" y="2228" textLength="383" lengthAdjust="spacingAndGlyphs">కాలు చేయగా స్థానికంగా ఉద్రిక్త వాతావరణం చోటుచేసుకుంది.</text>
<text x="790" y="2253" textLength="385" lengthAdjust="spacingAndGlyphs">అయితే సామాన్యులు ఎన్నికల కోడ్ ఉల్లంఘిస్తే హడావుడి చేసే</text>
<text x="790" y="2277" textLength="385" lengthAdjust="spacingAndGlyphs">పోలీసులు అధికార పార్టీల నాయకుల విషయంలో మాత్రం ఏమీ</text>
<text x="790" y="2301" textLength="385" lengthAdjust="spacingAndGlyphs">పట్టనట్లుగా వ్యవహరించారు. వివరాల్లోకి వెళితే మామునూరు ఎయి</text>
<text x="790" y="2326" textLength="385" lengthAdjust="spacingAndGlyphs">ర్‌పోర్టు నిర్మాణానికి కేంద్ర ప్రభుత్వం గ్రీన్ సిగ్నల్ ఇచ్చిన సంగతి</text>
<text x="790" y="2350" textLength="385" lengthAdjust="spacingAndGlyphs">తెలిసిందే. దీంతో శనివారం మామునూరు ఎయిర్‌పోర్టు గేటు వద్ద</text>
<text x="790" y="2374" textLength="385" lengthAdjust="spacingAndGlyphs">బీజేపీ నాయకులు ప్రధాని నరేంద్రమోదీ చిత్రపటానికి పుష్పాభిషే</text>
<text x="790" y="2399" textLength="385" lengthAdjust="spacingAndGlyphs">కం నిర్వహించి సంబురాలను చేపట్టారు. దీంతో తామేం తక్కువ</text>
<text x="790" y="2423" textLength="385" lengthAdjust="spacingAndGlyphs">అన్నట్లుగా కాంగ్రెస్ నాయకులు సైతం సంబురాలు చేసుకునేం</text>
<text x="790" y="2447" textLength="385" lengthAdjust="spacingAndGlyphs">దుకు అక్కడకు చేరుకున్నారు. పోటాపోటీగా నినాదాలు చేస్తూ ఇరు</text>
<text x="790" y="2472" textLength="385" lengthAdjust="spacingAndGlyphs">పార్టీల నాయకులు వాగ్వాదానికి దిగారు. దీంతో కొద్దిసేపు తోపు</text>
<text x="790" y="2496" textLength="385" lengthAdjust="spacingAndGlyphs">లాట జరిగింది. అక్కడే ఉన్న పోలీసులు ఇరువర్గాలను సముదా</text>
<text x="1201" y="2302" textLength="384" lengthAdjust="spacingAndGlyphs">యించారు. అనంతరం ఒకే టెంట్ కింద రెండు పార్టీల నాయకులు</text>
<text x="1201" y="2326" textLength="384" lengthAdjust="spacingAndGlyphs">పుష్ప, క్షీరాభిషేకాలునిర్వహించారు. కాగా, ఈ రెండు పార్టీల హం</text>
<text x="1201" y="2351" textLength="384" lengthAdjust="spacingAndGlyphs">గామాను చూసి స్థానికులు మండిపడ్డారు. ఎయిర్‌పోర్టు మూతప</text>
<text x="1201" y="2375" textLength="384" lengthAdjust="spacingAndGlyphs">డిన నాటి నుంచి కేంద్రంలో ఉన్నది బీజేపీ, కాంగ్రెస్ ప్రభుత్వాలే</text>
<text x="1201" y="2399" textLength="384" lengthAdjust="spacingAndGlyphs">అంటూ ఎద్దేవా చేశారు. తెలంగాణ వచ్చాకే మామునూరు ఎయిర్</text>
<text x="1201" y="2423" textLength="384" lengthAdjust="spacingAndGlyphs">పోర్టు నిర్మాణంలో కదలిక వచ్చిందంటున్నారు. కాగా, ఎన్నికల</text>
<text x="1201" y="2448" textLength="384" lengthAdjust="spacingAndGlyphs">కోడ్ ఉన్నా.. వరంగల్ కొత్తవాడలోని కొండా లక్ష్మణ్ బాపూజీ</text>
<text x="1201" y="2472" textLength="384" lengthAdjust="spacingAndGlyphs">జంక్షన్ వద్ద శనివారం కాంగ్రెస్ నాయకులు సీఎం రేవంత్‌రెడ్డి,</text>
<text x="1201" y="2496" textLength="371" lengthAdjust="spacingAndGlyphs">జిల్లా మంత్రి కొండా సురేఖ చిత్రపటాలకు క్షీరాభిషేకం చేశారు.</text>
</g>
</g>

<g id="canal-story">
<text class="hd" x="1634" y="2094" font-size="52" stroke-width="2.5" textLength="444" lengthAdjust="spacingAndGlyphs">కాల్వల ఆక్రమణలు తొలగిస్తాం</text>
<rect class="sq" x="1644" y="2127" width="9" height="9"/>
<rect class="sq" x="1644" y="2155" width="9" height="9"/>
<g class="bl">
<text x="1666" y="2138" textLength="272" lengthAdjust="spacingAndGlyphs">గ్రానైట్ ఫ్యాక్టరీలపై చర్యలు తీసుకుంటాం</text>
<text x="1666" y="2166" textLength="221" lengthAdjust="spacingAndGlyphs">నీటిపారుదల శాఖ ఏఈ అరవింద్</text>
</g>
<g class="b">
<text x="1650" y="2203" textLength="257" lengthAdjust="spacingAndGlyphs">హనుమకొండ సబర్బన్, మార్చి 1 : దేవా</text>
<text x="1631" y="2227" textLength="277" lengthAdjust="spacingAndGlyphs">దుల ఉత్తర కాల్వ పరిధిలోని పిల్ల కాల్వల ఆక్ర</text>
<text x="1631" y="2252" textLength="278" lengthAdjust="spacingAndGlyphs">మణను సహించేది లేదని నీటిపారుదల (దేవా</text>
<text x="1631" y="2276" textLength="289" lengthAdjust="spacingAndGlyphs">దుల) శాఖ ఏఈ అరవింద్ తెలిపారు. శనివారం</text>
<text x="1631" y="2300" textLength="313" lengthAdjust="spacingAndGlyphs">‘నమస్తే తెలంగాణ’లో ‘దేవా.. దిక్కెవరు’ శీర్షికతో</text>
<text x="1631" y="2325" textLength="441" lengthAdjust="spacingAndGlyphs">ప్రచురితమైన కథనానికి ఆయన స్పందించారు. కాల్వలు అన్యాక్రాంతమై</text>
<text x="1631" y="2349" textLength="441" lengthAdjust="spacingAndGlyphs">నట్లు ఇప్పటి వరకు తమ దృష్టికి రాలేదని, అన్నింటిని త్వరలోనే పరిశీలించి</text>
<text x="1631" y="2373" textLength="441" lengthAdjust="spacingAndGlyphs">వాటి ఆక్రమణలకు పాల్పడిన గ్రానైట్ ఫ్యాక్టరీలపై చర్యలు తీసుకుంటామని</text>
<text x="1631" y="2397" textLength="441" lengthAdjust="spacingAndGlyphs">పేర్కొన్నారు. దీని కోసం శాటిలైట్ చిత్రాలను పరిశీలిస్తామన్నారు. అలాగే</text>
<text x="1631" y="2422" textLength="441" lengthAdjust="spacingAndGlyphs">డిస్ట్రిబ్యూటరీ 7కు గేట్ బిగించే విషయంలో రైతులను సిబ్బంది డబ్బులు అడి</text>
<text x="1631" y="2446" textLength="441" lengthAdjust="spacingAndGlyphs">గిన విషయం కూడా తమ దృష్టికి రాలేదని, విచారణలో నిజమని తేలితే</text>
<text x="1631" y="2470" textLength="441" lengthAdjust="spacingAndGlyphs">బాధ్యులపై చర్యలు తీసుకుంటామన్నారు. నీటి సరఫరా విషయంలో సమ</text>
<text x="1631" y="2495" textLength="441" lengthAdjust="spacingAndGlyphs">స్యలుంటే రైతులు తమ దృష్టికి తీసుకురావాలన్నారు. చివరి ఆయకట్టు వరకు</text>
<text x="1631" y="2519" textLength="441" lengthAdjust="spacingAndGlyphs">నీటిని అందించక పోవడం నిజమేనని, దీనికి మొదట ఉన్న రైతులు అనుమ</text>
<text x="1631" y="2543" textLength="441" lengthAdjust="spacingAndGlyphs">తులు లేకుండా కాల్వల్లో మోటర్లు బిగించి పంటలకు నీరు తరలించడమే</text>
<text x="1631" y="2568" textLength="218" lengthAdjust="spacingAndGlyphs">కారణమని అరవింద్ స్పష్టం చేశారు.</text>
</g>
</g>

<g id="nit-story">
<g class="c">
<text x="423" y="2735" textLength="301" lengthAdjust="spacingAndGlyphs">‘స్ప్రింగ్ స్ప్రీ’లో సందడి చేసిన ‘మ్యాడ్-2’ చిత్రబృందం</text>
<text x="65" y="2777" textLength="132" lengthAdjust="spacingAndGlyphs">నిట్‌లోని ‘స్ప్రింగ్ స్ప్రీ’</text>
<text x="65" y="2804" textLength="95" lengthAdjust="spacingAndGlyphs">బోర్డు వద్ద సెల్ఫీ</text>
<text x="65" y="2829" textLength="144" lengthAdjust="spacingAndGlyphs">దిగుతున్న విద్యార్థినులు</text>
<text x="310" y="3188" textLength="362" lengthAdjust="spacingAndGlyphs">సింగర్ గీతామాధురి పాటకు కేరింతలు కొడుతున్న విద్యార్థులు</text>
</g>
<g class="b">
<text x="866" y="2544" textLength="207" lengthAdjust="spacingAndGlyphs">హనుమకొండ చౌరస్తా, మార్చి 1 :</text>
<text x="857" y="2568" textLength="218" lengthAdjust="spacingAndGlyphs">వరంగల్ నిట్‌లో వార్షిక సాంస్కృతిక</text>
<text x="942" y="2593" textLength="147" lengthAdjust="spacingAndGlyphs">వేడుక విద్యార్థుల్లో నూత</text>
<text x="946" y="2617" textLength="140" lengthAdjust="spacingAndGlyphs">నోత్సాహం తీసుకొచ్చిం</text>
<text x="942" y="2641" textLength="128" lengthAdjust="spacingAndGlyphs">ది. స్ప్రింగ్ స్ప్రీ రెండో</text>
<text x="940" y="2666" textLength="146" lengthAdjust="spacingAndGlyphs">రోజు వివిధ సాంస్కృతిక,</text>
<text x="936" y="2690" textLength="124" lengthAdjust="spacingAndGlyphs">సృజనాత్మక కలగలపి</text>
<text x="936" y="2714" textLength="146" lengthAdjust="spacingAndGlyphs">నిర్వహించిన 18 ప్రత్యేక</text>
<text x="936" y="2738" textLength="141" lengthAdjust="spacingAndGlyphs">ఈవెంట్లు అందరినీ ఆక</text>
<text x="936" y="2763" textLength="146" lengthAdjust="spacingAndGlyphs">ట్టుకున్నాయి. ముఖ్యంగా</text>
<text x="926" y="2787" textLength="136" lengthAdjust="spacingAndGlyphs">హ్యాండ్ ప్రింటింగ్ (వా</text>
<text x="912" y="2811" textLength="163" lengthAdjust="spacingAndGlyphs">ల్యూ ఎడ్యుకేషన్ క్లబ్ అండ్</text>
<text x="917" y="2836" textLength="158" lengthAdjust="spacingAndGlyphs">ఎన్ఎస్ఎస్)- విద్యార్థులు</text>
<text x="917" y="2861" textLength="169" lengthAdjust="spacingAndGlyphs">తమ చేతిముద్రలను చక్కగా</text>
<text x="917" y="2884" textLength="149" lengthAdjust="spacingAndGlyphs">వేయడం ద్వారా జ్ఞాపకా</text>
<text x="908" y="2909" textLength="161" lengthAdjust="spacingAndGlyphs">లుగా నిలిపే కార్యక్రమాన్ని</text>
<text x="909" y="2933" textLength="143" lengthAdjust="spacingAndGlyphs">నిర్వహించారు. కుండల</text>
<text x="1114" y="2617" textLength="395" lengthAdjust="spacingAndGlyphs">తయారీ(పాటరీ) (ఎన్ఎస్ఎస్)-మట్టితో చేతిపనికి ఒక అనుభూతి</text>
<text x="1114" y="2641" textLength="377" lengthAdjust="spacingAndGlyphs">ని అందించే కార్యక్రమం, స్నేక్స్ అండ్ లాడర్స్(యూత్ రెడ్ క్రా</text>
<text x="1114" y="2666" textLength="369" lengthAdjust="spacingAndGlyphs">స్)-చిన్న పిల్లల ఆటను నిజజీవిత అనుభూతితో వినూత్నంగా</text>
<text x="1114" y="2690" textLength="387" lengthAdjust="spacingAndGlyphs">నిర్వహించారు. యన్‌సాల్వ్‌డ్ (లిటరరీ అండ్ డిబేట్ క్లబ్) నిఘూ,</text>
<text x="1114" y="2714" textLength="384" lengthAdjust="spacingAndGlyphs">విచారణ ఆధారంగా నడిచే డిటెక్టివ్ గేమ్, స్ట్రీట్ ఫొటోగ్రఫీ(ఫొటో</text>
<text x="1114" y="2738" textLength="390" lengthAdjust="spacingAndGlyphs">గ్రఫీ క్లబ్)- సాంస్కృతిక అంశాలను 15 నిమిషాల్లో ఫొటోరూపం</text>
<text x="1114" y="2763" textLength="390" lengthAdjust="spacingAndGlyphs">లో అందించే పోటీలు కట్టిపడేశాయి. పోలరాయిడ్ ఫొటోగ్రఫీ(ఫొ</text>
<text x="1114" y="2787" textLength="390" lengthAdjust="spacingAndGlyphs">టోగ్రఫీ క్లబ్)-వెంటనే తక్షణ ఫొటోలను తీసుకొని గుర్తుగా ఉంచు</text>
<text x="1114" y="2811" textLength="387" lengthAdjust="spacingAndGlyphs">కునే ప్రత్యేక అనుభవం, ఆర్ట్ థెరపీ (పెయింటింగ్ క్లబ్)-చిత్రలేఖ</text>
<text x="1114" y="2836" textLength="398" lengthAdjust="spacingAndGlyphs">నం ద్వారా భావాలను వ్యక్తీకరించే చికిత్సాత్మక కార్యక్రమం, తానా</text>
<text x="1114" y="2861" textLength="387" lengthAdjust="spacingAndGlyphs">బానా (ఏక్ భారత్ శ్రేష్ఠ భారత్)- సంప్రదాయ ఆహారాలు, వస్త్ర</text>
<text x="1114" y="2884" textLength="398" lengthAdjust="spacingAndGlyphs">ధారణ, పద్ధతులపై అవగాహన పెంచే ఆట ఏర్పాటు చేశారు. ట్రెజర్</text>
<text x="1114" y="2909" textLength="398" lengthAdjust="spacingAndGlyphs">హంట్(లిటరరీ అండ్ డిబేట్ క్లబ్)-సాంస్కృతిక విషయాలపై ఆధా</text>
<text x="1114" y="2933" textLength="353" lengthAdjust="spacingAndGlyphs">రపడి స్కావెంజర్ హంట్ పోటీ నిర్వహించి ఆకట్టుకున్నారు.</text>
</g>
<text class="hd r" x="99" y="2897" font-size="30" stroke-width="1" textLength="120" lengthAdjust="spacingAndGlyphs">మూడో రోజు</text>
<g class="b">
<text x="92" y="2934" textLength="140" lengthAdjust="spacingAndGlyphs">చివరి రోజైన ఆదివారం</text>
<text x="74" y="2958" textLength="153" lengthAdjust="spacingAndGlyphs">అల్యూర్-ఆకర్షణీయమైన</text>
<text x="74" y="2982" textLength="130" lengthAdjust="spacingAndGlyphs">ఫ్యాషన్ షో, డీజే నైట్</text>
<text x="74" y="3006" textLength="163" lengthAdjust="spacingAndGlyphs">ఉంటుంది. నుక్కడ్ నాటక్(</text>
<text x="74" y="3030" textLength="165" lengthAdjust="spacingAndGlyphs">వీధి నాటిక ప్రదర్శన), అరో</text>
<text x="74" y="3054" textLength="143" lengthAdjust="spacingAndGlyphs">హన్-జూలియస్, సీజర్</text>
<text x="74" y="3078" textLength="134" lengthAdjust="spacingAndGlyphs">కథపై నాటక ప్రదర్శన,</text>
<text x="74" y="3103" textLength="140" lengthAdjust="spacingAndGlyphs">మైథాలజీ క్విజ్-పురాణ</text>
<text x="74" y="3127" textLength="143" lengthAdjust="spacingAndGlyphs">గాథలపై పరీక్షించే ప్రశ్నా</text>
<text x="74" y="3151" textLength="148" lengthAdjust="spacingAndGlyphs">పోటీ, బ్లిట్జ్ బుల్లెట్ -చెస్</text>
<text x="74" y="3177" textLength="158" lengthAdjust="spacingAndGlyphs">పోటీ నిర్వహించనున్నారు.</text>
</g>
<text class="hd" x="940" y="2991" font-size="32" stroke-width="1" textLength="222" lengthAdjust="spacingAndGlyphs">అలరించిన ప్రోషోలు..</text>
<g class="b">
<text x="895" y="3026" textLength="328" lengthAdjust="spacingAndGlyphs">నిట్ గ్రౌండ్‌లో ప్రోషోలు అందరినీ అలరించాయి. ఈ</text>
<text x="873" y="3051" textLength="331" lengthAdjust="spacingAndGlyphs">ఉత్సవ ప్రత్యేక ఆకర్షణగా తెలుగు సినిమా మ్యాడ్ స్క్వేర్</text>
<text x="874" y="3074" textLength="335" lengthAdjust="spacingAndGlyphs">చిత్రబృందం నిట్ క్యాంపస్‌ను సందర్శించి విద్యార్థులతో</text>
<text x="874" y="3099" textLength="335" lengthAdjust="spacingAndGlyphs">ఉత్సాహభరితంగా మాట్లాడారు. అనంతరం ప్రముఖ నేప</text>
<text x="878" y="3123" textLength="317" lengthAdjust="spacingAndGlyphs">థ్యగాయని గీతామాధురి తన మధుర గానంతో ప్రేక్షకు</text>
<text x="870" y="3146" textLength="311" lengthAdjust="spacingAndGlyphs">లను మంత్రముగ్ధులను చేసింది. ఇక రాత్రిని మ రింత</text>
<text x="869" y="3170" textLength="314" lengthAdjust="spacingAndGlyphs">రసవత్తరంగా మార్చిన కొరియో నైట్ పోటీ, వివిధ</text>
<text x="863" y="3194" textLength="307" lengthAdjust="spacingAndGlyphs">నృత్యబృందాల అద్భుత ప్రదర్శనలతో కొనసాగింది.</text>
</g>
</g>
</svg>
